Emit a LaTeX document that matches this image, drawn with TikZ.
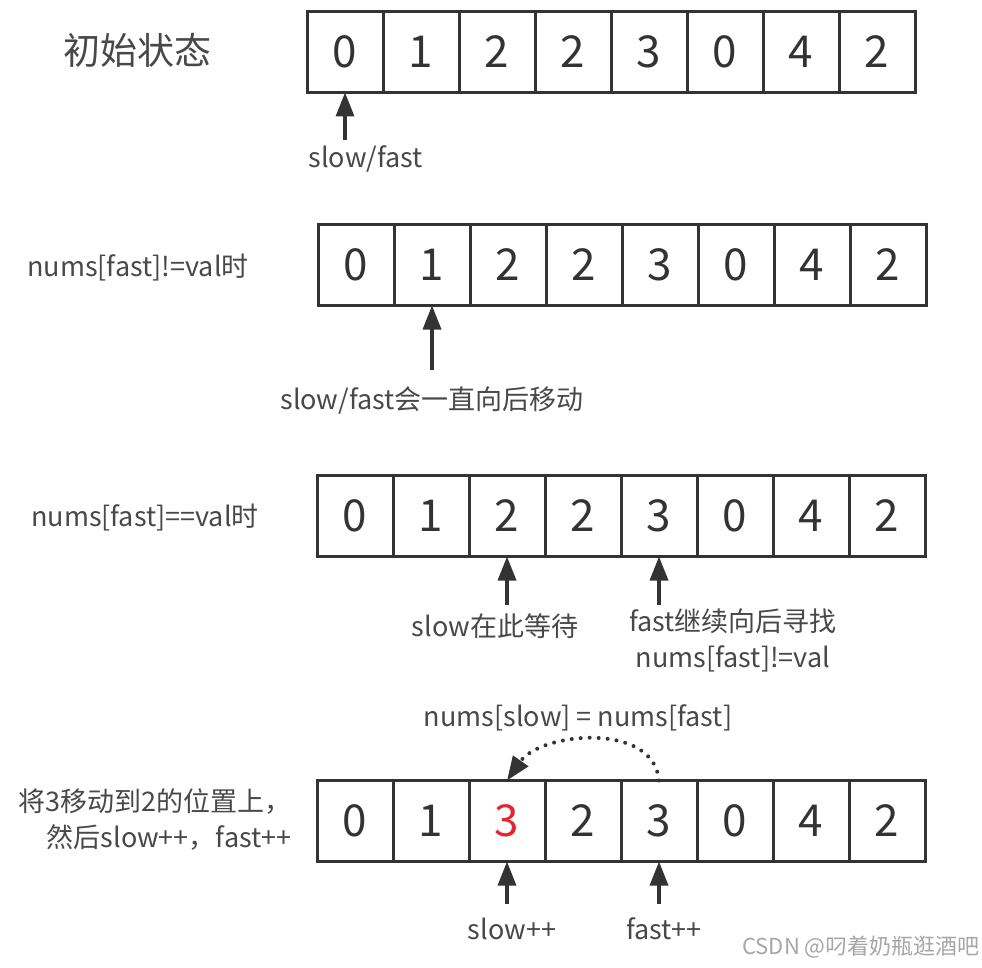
\documentclass[tikz,border=0pt]{standalone}
\usepackage{fontspec}
\setmainfont{Noto Sans CJK SC}
\usetikzlibrary{positioning, calc, arrows.meta}
\definecolor{boxgray}{HTML}{333333}
\definecolor{notegray}{HTML}{484848}
\definecolor{movedred}{HTML}{E3262E}

\begin{document}
\begin{tikzpicture}[
        x=1pt, y=-1pt,
        cell/.style={
            rectangle, draw=boxgray, line width=3pt, outer sep=0pt,
            minimum width=76pt, minimum height=81pt, inner sep=0pt,
            font=\fontsize{44}{44}\selectfont, text=boxgray
        },
        remark/.style={font=\fontsize{27}{36}\selectfont, text=notegray, align=center},
        ptr/.style={draw=boxgray, line width=3.4pt, -{Triangle[length=24pt,width=18pt]}},
        copyline/.style={draw=boxgray, line width=4pt, line cap=round,
            dash pattern=on 0pt off 9pt, -{Triangle[length=24pt,width=18pt]}},
    ]
    \useasboundingbox (0,0) rectangle (982,968);

    % initial state
    \foreach \v [count=\i] in {0,1,2,2,3,0,4,2}
        \node[cell] (a\i) at ({345+76*(\i-1)}, 52) {\v};
    \node[remark, font=\fontsize{37}{40}\selectfont] (t1) at (137,50) {初始状态};
    \coordinate[below=48pt of a1.south] (p1);
    \draw[ptr] (p1) -- (a1.south);
    \node[remark, anchor=west] (l1) at ($(a1.south west)+(-2,66)$) {slow/fast};

    % nums[fast] != val
    \foreach \v [count=\i] in {0,1,2,2,3,0,4,2}
        \node[cell] (b\i) at ({356+76*(\i-1)}, 265) {\v};
    \node[remark] (t2) at (138,268) {nums[fast]!=val时};
    \coordinate[below=64pt of b2.south] (p2);
    \draw[ptr] (p2) -- (b2.south);
    \node[remark] (l2) at ($(b2.south)+(0,95)$) {slow/fast会一直向后移动};

    % nums[fast] == val
    \foreach \v [count=\i] in {0,1,2,2,3,0,4,2}
        \node[cell] (c\i) at ({355+76*(\i-1)}, 516) {\v};
    \node[remark] (t3) at (145,518) {nums[fast]==val时};
    \coordinate[below=48pt of c3.south] (p3);
    \coordinate[below=48pt of c5.south] (p4);
    \draw[ptr] (p3) -- (c3.south);
    \draw[ptr] (p4) -- (c5.south);
    \node[remark] (l3) at ($(c3.south)+(-12,70)$) {slow在此等待};
    \node[remark] (l4) at ($(c5.south)+(74,84)$) {fast继续向后寻找\\nums[fast]!=val};

    % copy and move on
    \foreach \v [count=\i] in {0,1,{\textcolor{movedred}{3}},2,3,0,4,2}
        \node[cell] (d\i) at ({355+76*(\i-1)}, 821) {\v};
    \node[remark, align=right] (t4) at (155,820) {将3移动到2的位置上，\\然后slow++，fast++};
    \draw[copyline] (d5.north) to[out=95, in=55] (d3.north);
    \node[remark] (l5) at (578,718) {nums[slow] = nums[fast]};
    \coordinate[below=42pt of d3.south] (p5);
    \coordinate[below=42pt of d5.south] (p6);
    \draw[ptr] (p5) -- (d3.south);
    \draw[ptr] (p6) -- (d5.south);
    \node[remark] (l6) at ($(d3.south)+(5,67)$) {slow++};
    \node[remark] (l7) at ($(d5.south)+(5,67)$) {fast++};

    \node[font=\fontsize{22}{22}\selectfont, text=black!35] (mark) at (861,947) {CSDN @叼着奶瓶逛酒吧};
\end{tikzpicture}
\end{document}
